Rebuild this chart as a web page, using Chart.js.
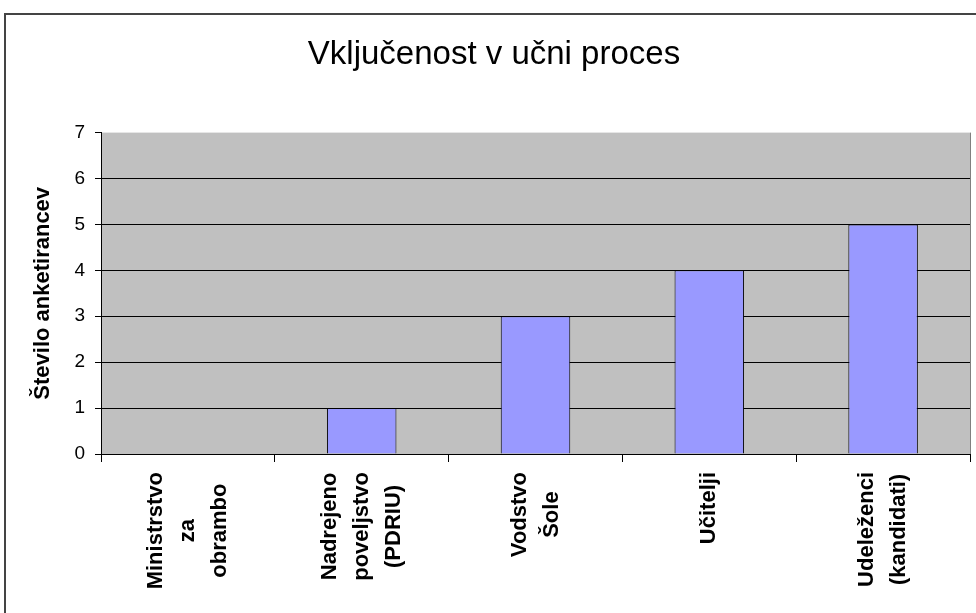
<!DOCTYPE html>
<html>
<head>
<meta charset="utf-8">
<script src="https://cdn.jsdelivr.net/npm/chart.js@4"></script>
<style>
  html, body { margin: 0; padding: 0; background: #fff; }
  #wrap { position: relative; width: 976px; height: 613px; overflow: hidden; }
  #frame { position: absolute; left: 4px; top: 13px; width: 1000px; height: 700px;
           border-top: 2px solid #444; border-left: 2px solid #444; pointer-events: none; }
</style>
</head>
<body>
<div id="wrap">
  <canvas id="bar_chart" width="976" height="613"></canvas>
  <div id="frame"></div>
</div>
<script>
// categories (one entry per line of the rotated label)
const categories = [
  ["Ministrstvo", "za", "obrambo"],
  ["Nadrejeno", "poveljstvo", "(PDRIU)"],
  ["Vodstvo", "Šole"],
  ["Učitelji"],
  ["Udeleženci", "(kandidati)"],
];
const respondents = [0, 1, 3, 4, 5];
const yMin = 0;
const yMax = 7;
const yStep = 1;

const FONT = '"Liberation Sans", Arial, sans-serif';

// grey plot background
const plotBg = {
  id: "plotBg",
  beforeDraw(chart) {
    const { ctx, chartArea: a } = chart;
    ctx.save();
    ctx.fillStyle = "#c0c0c0";
    ctx.fillRect(a.left, a.top, a.right - a.left, a.bottom - a.top);
    ctx.restore();
  },
};

// rotated multi-line category labels, lines centred on each other
const catLabels = {
  id: "catLabels",
  afterDraw(chart) {
    const { ctx } = chart;
    const xs = chart.scales.x;
    const top = xs.top + 18;
    const gap = 32;
    ctx.save();
    ctx.font = "bold 22px " + FONT;
    ctx.fillStyle = "#000";
    ctx.textAlign = "center";
    ctx.textBaseline = "middle";
    categories.forEach((lines, i) => {
      const x = xs.getPixelForTick(i);
      const maxW = Math.max(...lines.map((l) => ctx.measureText(l).width));
      lines.forEach((line, j) => {
        const lx = x + (j - (lines.length - 1) / 2) * gap;
        ctx.save();
        ctx.translate(lx, top + maxW / 2);
        ctx.rotate(-Math.PI / 2);
        ctx.fillText(line, 0, 0);
        ctx.restore();
      });
    });
    ctx.restore();
  },
};

const ctx = document.getElementById("bar_chart");

new Chart(ctx, {
  type: "bar",
  data: {
    labels: categories,
    datasets: [
      {
        label: "Število anketirancev",
        data: respondents,
        backgroundColor: "#9999ff",
        borderColor: "#000",
        borderWidth: 1,
        barPercentage: 0.4,
        categoryPercentage: 1,
      },
    ],
  },
  options: {
    responsive: false,
    animation: false,
    devicePixelRatio: 1,
    layout: { padding: { left: 18, right: 6, top: 0, bottom: 0 } },
    plugins: {
      legend: { display: false },
      tooltip: { enabled: false },
      title: {
        display: true,
        text: "Vključenost v učni proces",
        color: "#000",
        font: { family: FONT, size: 33, weight: "normal" },
        padding: { top: 35, bottom: 58 },
      },
    },
    scales: {
      x: {
        offset: true,
        grid: {
          offset: true,
          drawOnChartArea: true,
          color: (c) => (c.type === "tick" ? "transparent" : "#808080"),
          tickColor: "#000",
          tickLength: 8,
        },
        border: { color: "#000" },
        ticks: { color: "transparent", minRotation: 90, maxRotation: 90, font: { family: FONT, size: 22, weight: "bold" } },
        afterFit: (s) => { s.height = 613 - 454; },
      },
      y: {
        min: yMin,
        max: yMax,
        grid: {
          color: (c) => (c.tick && c.tick.value === yMax ? "transparent" : "#000"),
          tickColor: "#000",
          tickLength: 6,
        },
        border: { color: "#000" },
        ticks: { stepSize: yStep, color: "#000", padding: 10, font: { family: FONT, size: 19 } },
        title: {
          display: true,
          text: "Število anketirancev",
          color: "#000",
          font: { family: FONT, size: 22, weight: "bold" },
          padding: { top: 12, bottom: 0 },
        },
        afterFit: (s) => { s.width = 101 - 18; },
      },
    },
  },
  plugins: [plotBg, catLabels],
});
</script>
</body>
</html>
